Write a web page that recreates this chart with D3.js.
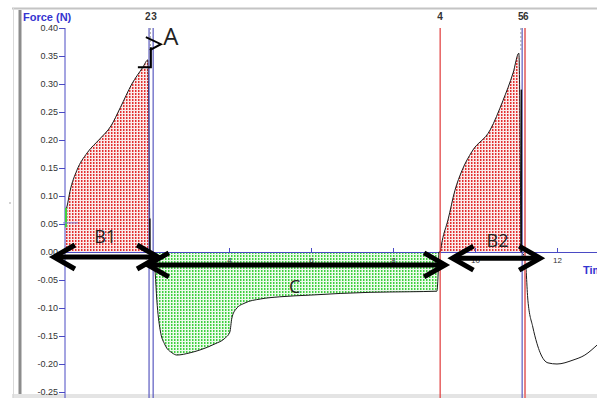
<!DOCTYPE html>
<html><head><meta charset="utf-8">
<script src="https://cdn.jsdelivr.net/npm/d3@7"></script>
<style>body{margin:0;background:#fff}svg{display:block}</style>
</head><body><svg id="c" width="597" height="398"></svg>
<script>
// ---- data (time in s, force in N) ----
const yTicks = [0.40,0.35,0.30,0.25,0.20,0.15,0.10,0.05,0.00,-0.05,-0.10,-0.15,-0.20,-0.25];
const xTicks = [2,4,6,8,10,12];
// B1: first pull phase (positive force)
const b1Time  = [0.00,0.02,0.05,0.12,0.29,0.54,0.85,1.12,1.35,1.63,1.90,2.02,2.07];
const b1Force = [0.000,0.075,0.082,0.108,0.146,0.177,0.202,0.225,0.258,0.300,0.330,0.343,0.000];
// C: negative phase
const cTime  = [2.15,2.20,2.24,2.32,2.44,2.61,2.73,3.05,3.29,3.66,3.90,4.02,4.07,4.17,4.39,4.76,5.24,5.98,6.71,7.44,8.41,9.07,9.12];
const cForce = [0.000,-0.038,-0.086,-0.139,-0.166,-0.180,-0.184,-0.180,-0.175,-0.164,-0.154,-0.143,-0.118,-0.102,-0.091,-0.084,-0.080,-0.077,-0.074,-0.072,-0.071,-0.070,0.000];
// B2: second pull phase
const b2Time  = [9.15,9.20,9.34,9.51,9.68,9.93,10.37,10.68,10.93,11.07,11.12];
const b2Force = [0.000,0.020,0.057,0.110,0.145,0.180,0.218,0.270,0.320,0.355,0.000];
// tail after second release
const tailTime  = [11.12,11.22,11.29,11.41,11.51,11.59,11.78,12.00,12.39,12.68,12.98,13.10];
const tailForce = [0.000,-0.010,-0.086,-0.134,-0.163,-0.180,-0.198,-0.200,-0.193,-0.184,-0.166,-0.158];
// cursors
const cursorTimes  = [2.05,2.15,9.15,11.15,11.22];
const cursorLabels = ["2","3","4","5","6"];
const cursorKinds  = ["blue","blue","red","blue","pink"];
const cursorAnchor = ["end","start","middle","end","start"];
// annotation arrows and labels
const arrowsFrom  = [-0.27, 2.02, 9.45];
const arrowsTo    = [2.27, 9.27, 11.59];
const arrowsLevel = [-0.009, -0.023, -0.011];
const noteText  = ["B1","C","B2","A"];
const noteTime  = [0.98, 5.6, 10.55, 2.58];
const noteForce = [0.016,-0.073,0.009,0.37];

const svg = d3.select("#c");
const x = d3.scaleLinear().domain([0,13]).range([65, 65+41*13]);
const y = d3.scaleLinear().domain([-0.25,0.40]).range([392,28]);

// frame
svg.append("rect").attr("x",12).attr("y",394).attr("width",585).attr("height",4).attr("fill","#e4e4e4");
svg.append("line").attr("x1",12).attr("x2",597).attr("y1",8.5).attr("y2",8.5).attr("stroke","#c4c4c4").attr("stroke-width",2);
svg.append("line").attr("x1",13.5).attr("x2",13.5).attr("y1",8).attr("y2",398).attr("stroke","#dadada").attr("stroke-width",1);
svg.append("line").attr("x1",20).attr("x2",20).attr("y1",10).attr("y2",394).attr("stroke","#8c8c8c").attr("stroke-width",3);
svg.append("circle").attr("cx",10).attr("cy",203).attr("r",0.8).attr("fill","#999");

const defs = svg.append("defs");
const pr = defs.append("pattern").attr("id","red").attr("width",3).attr("height",3).attr("patternUnits","userSpaceOnUse");
pr.append("rect").attr("width",3).attr("height",3).attr("fill","#fbeaea");
pr.append("rect").attr("width",1.5).attr("height",2).attr("fill","#e23030");
const pg = defs.append("pattern").attr("id","green").attr("width",3).attr("height",3).attr("patternUnits","userSpaceOnUse");
pg.append("rect").attr("width",3).attr("height",3).attr("fill","#ecfbec");
pg.append("rect").attr("width",1.5).attr("height",2).attr("fill","#3fcf3f");

const zip = (t,f) => t.map((d,i)=>[d,f[i]]);
const curve = d3.curveMonotoneX;
const area = d3.area().curve(curve).x(d=>x(d[0])).y0(y(0)).y1(d=>y(d[1]));
const line = d3.line().curve(curve).x(d=>x(d[0])).y(d=>y(d[1]));

svg.append("path").datum(zip(b1Time,b1Force)).attr("d",area).attr("fill","url(#red)");
svg.append("path").datum(zip(cTime,cForce)).attr("d",area).attr("fill","url(#green)");
svg.append("path").datum(zip(b2Time,b2Force)).attr("d",area).attr("fill","url(#red)");

// axes
const axColor = "#4a4ac4";
const gy = svg.append("g").attr("transform",`translate(${x(0)},0)`)
  .call(d3.axisLeft(y).tickValues(yTicks).tickSize(6).tickSizeOuter(0).tickPadding(1).tickFormat(d=>d.toFixed(2)));
gy.select(".domain").attr("stroke",axColor).attr("d",`M0,${y(0.40)}V398`);
gy.selectAll(".tick line").attr("stroke",axColor);
gy.selectAll("text").attr("fill","#333").style("font","9px 'Liberation Sans', Arial, sans-serif");

const gx = svg.append("g").attr("transform",`translate(0,${y(0)})`)
  .call(d3.axisBottom(x).tickValues(xTicks).tickSize(-4).tickSizeOuter(0).tickPadding(5));
gx.select(".domain").attr("stroke",axColor);
gx.selectAll(".tick line").attr("stroke",axColor);
gx.selectAll("text").attr("fill","#333").style("font","8px 'Liberation Sans', Arial, sans-serif");

// curve (each segment)
[zip(b1Time.slice(1),b1Force.slice(1)), zip(cTime,cForce), zip(b2Time,b2Force), zip(tailTime,tailForce)].forEach(seg=>{
  svg.append("path").datum(seg).attr("d",line).attr("fill","none").attr("stroke","#1a1a1a").attr("stroke-width",1);
});
svg.append("path").attr("d",`M${x(2.07)},${y(0)}H${x(2.15)}M${x(9.12)},${y(0)}H${x(9.15)}`).attr("stroke","#1a1a1a");

// start markers
svg.append("line").attr("x1",x(0)+1).attr("x2",x(0)+1).attr("y1",y(0.079)).attr("y2",y(0.044)).attr("stroke","#3fd03f").attr("stroke-width",2);
svg.append("line").attr("x1",x(0)-2).attr("x2",x(0)+13).attr("y1",y(0.052)).attr("y2",y(0.052)).attr("stroke","#8080d8").attr("stroke-width",1);

// cursors
const cColor = {blue:"#5a5ac0", red:"#e03a3a", pink:"#e88080"};
cursorTimes.forEach((t,i)=>{
  svg.append("line").attr("x1",x(t)).attr("x2",x(t)).attr("y1",y(0.40)).attr("y2",398)
    .attr("stroke",cColor[cursorKinds[i]]).attr("stroke-width",cursorKinds[i]==="pink"?2:1.2);
  svg.append("text").attr("x",x(t) + (cursorAnchor[i]==="end"?1.5:cursorAnchor[i]==="start"?-2:0)).attr("y",20).attr("text-anchor",cursorAnchor[i])
    .attr("fill","#333").style("font","bold 10px 'Liberation Sans', Arial, sans-serif").text(cursorLabels[i]);
});
svg.append("line").attr("x1",x(2.07)).attr("x2",x(2.07)).attr("y1",y(0.06)).attr("y2",y(0)).attr("stroke","#111").attr("stroke-width",1.5);
svg.append("line").attr("x1",x(11.13)).attr("x2",x(11.13)).attr("y1",y(0.29)).attr("y2",y(0)).attr("stroke","#111").attr("stroke-width",1.5);
[[2.08,0.40,0.33],[11.12,0.40,0.36]].forEach(d=>{
  svg.append("line").attr("x1",x(d[0])).attr("x2",x(d[0])).attr("y1",y(d[1])).attr("y2",y(d[2]))
   .attr("stroke","#999").attr("stroke-dasharray","2,2");
});

// labels
svg.append("text").attr("x",23).attr("y",21).attr("fill","#3434d0").style("font","bold 11px 'Liberation Sans', Arial, sans-serif").text("Force (N)");
svg.append("text").attr("x",583).attr("y",274).attr("fill","#3434d0").style("font","bold 11px 'Liberation Sans', Arial, sans-serif").text("Time (s)");

// double arrows
arrowsFrom.forEach((t0,i)=>{
  const x0=x(t0), x1=x(arrowsTo[i]), yy=y(arrowsLevel[i]);
  const g = svg.append("g").attr("fill","none").attr("stroke","#000").attr("stroke-width",5);
  g.append("line").attr("x1",x0+2).attr("x2",x1-2).attr("y1",yy).attr("y2",yy);
  g.append("path").attr("d",`M${x0+21},${yy-12}L${x0},${yy}L${x0+21},${yy+12}`);
  g.append("path").attr("d",`M${x1-21},${yy-12}L${x1},${yy}L${x1-21},${yy+12}`);
});

// A marker
const ax = x(2.07), ay = y(0.33);
svg.append("path").attr("d",`M${ax-12},${ay}H${ax+1}V${ay-20}`).attr("fill","none").attr("stroke","#000").attr("stroke-width",2);
svg.append("path").attr("d",`M${ax-4},${ay-30}L${ax+11},${ay-23}L${ax},${ay-17}`).attr("fill","none").attr("stroke","#000").attr("stroke-width",2);

noteText.forEach((s,i)=>{
  svg.append("text").attr("x",x(noteTime[i])).attr("y",y(noteForce[i])).attr("text-anchor","middle")
   .attr("fill","#222").style("font",(s==="A"?"24px":"18px")+" 'Open Sans', 'Liberation Sans', sans-serif").text(s);
});
</script>
</body></html>
